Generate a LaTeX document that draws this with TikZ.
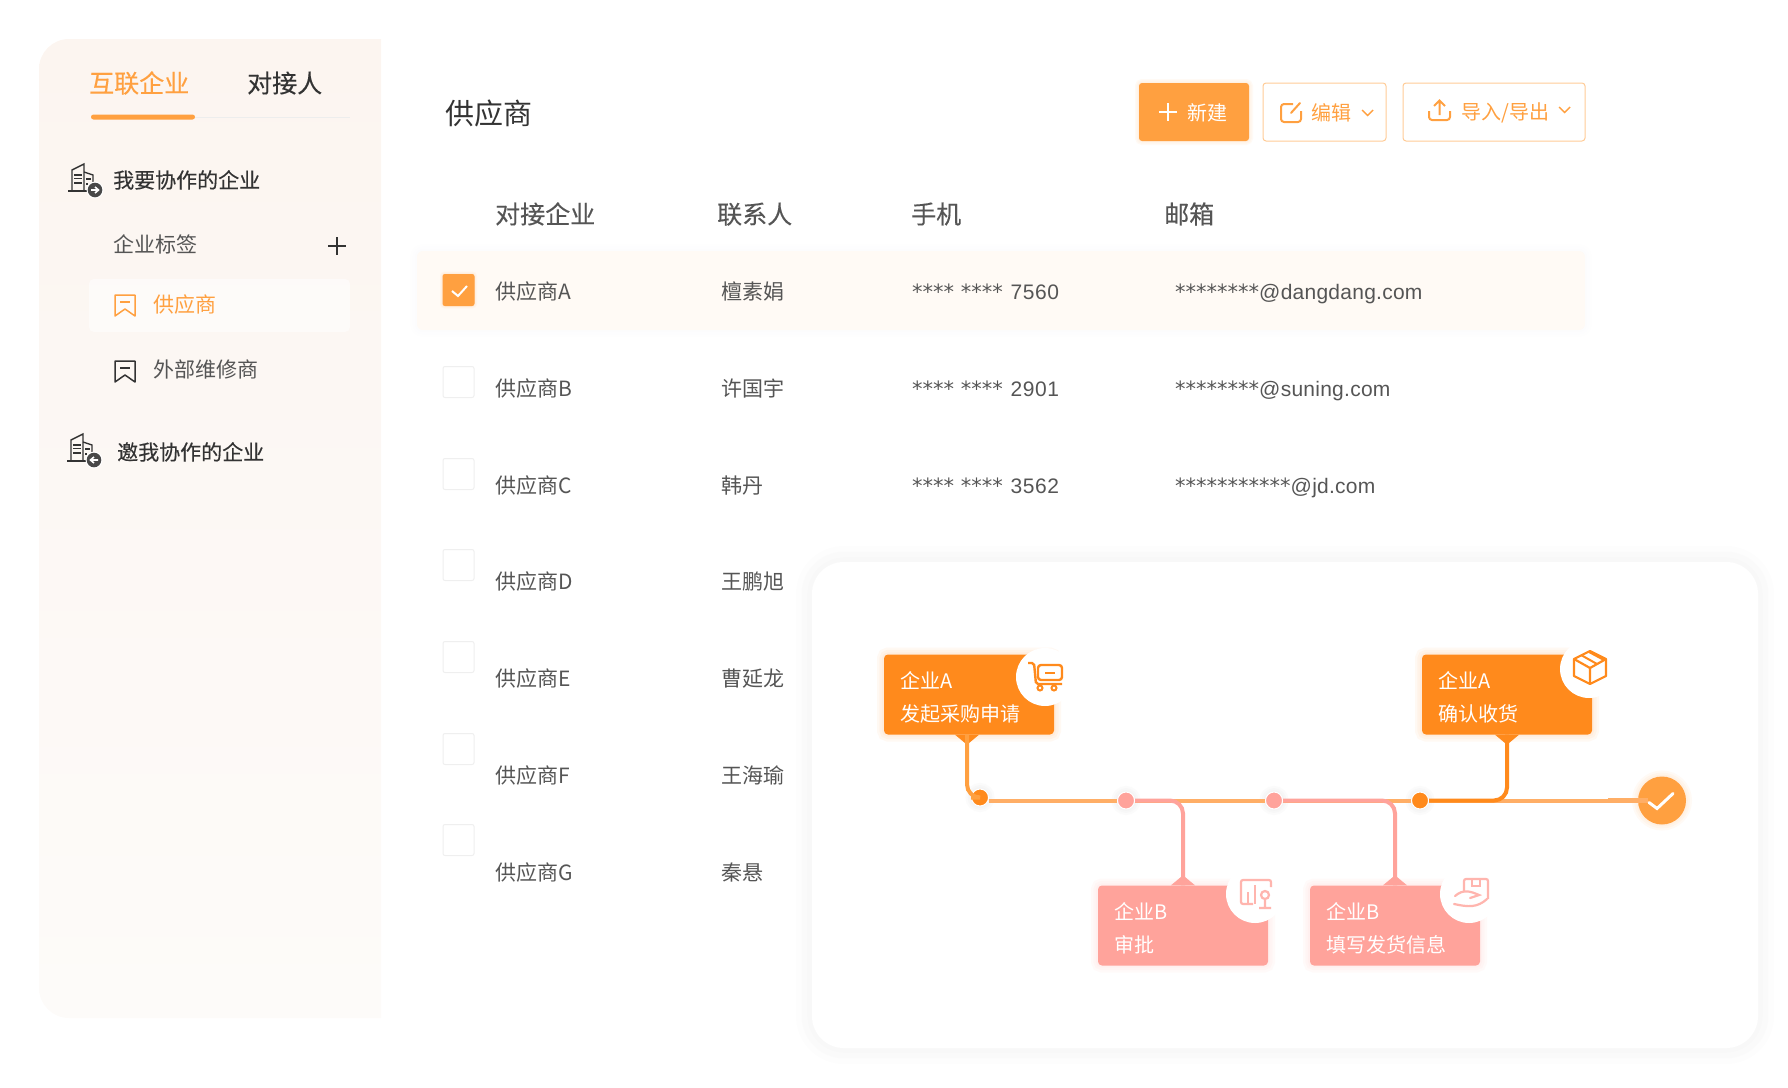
\documentclass[tikz,border=0pt]{standalone}
\usepackage{fontspec}
\setmainfont{Noto Sans CJK SC}
\newfontfamily\cjkheavy[FakeBold=0.3]{Noto Sans CJK SC}
\newfontfamily\starfont{DejaVu Sans}
\newfontfamily\latfont[LetterSpace=1.2]{Liberation Sans}
\newfontfamily\digitfont[LetterSpace=3]{Liberation Sans}
\usetikzlibrary{positioning}
\definecolor{accent}{HTML}{FFA040}
\definecolor{flow}{HTML}{FF8A1C}
\definecolor{rose}{HTML}{FFA39B}
\definecolor{roseicon}{HTML}{FFB5AE}
\definecolor{trunk}{HTML}{FFAE66}
\definecolor{ink}{HTML}{555555}
\definecolor{dark}{HTML}{333333}
\definecolor{edge}{HTML}{FFCB96}
\definecolor{tick}{HTML}{EFEFEF}
\definecolor{sidetop}{HTML}{FCF5F0}
\definecolor{sidebottom}{HTML}{FDFBF9}
\tikzset{
	softglow/.style 2 args={
		preaction={draw=#1,draw opacity=.05,line width=#2*2},
		preaction={draw=#1,draw opacity=.05,line width=#2*1.3},
		preaction={draw=#1,draw opacity=.05,line width=#2*.6}},
	txtnode/.style={font=\fontsize{#1}{#1}\selectfont,inner sep=0pt,anchor=west,text height=#1*.88pt,text depth=#1*.12pt},
	rowtext/.style={txtnode=21,text=ink},
	headtext/.style={txtnode=25,text=ink,font=\fontsize{25}{25}\cjkheavy},
	menutext/.style={txtnode=21,text=dark,font=\fontsize{21}{21}\cjkheavy},
	chkbox/.style={draw=tick,fill=white,line width=1pt,rounded corners=2pt,minimum size=31pt,inner sep=0pt},
	btnbox/.style={draw=edge,line width=1pt,rounded corners=3pt,minimum height=58pt,inner sep=0pt},
	flowbox/.style={fill=#1,rounded corners=4pt,minimum width=170pt,minimum height=80pt,inner sep=0pt,softglow={#1}{7pt}},
	flowtext/.style={font=\fontsize{20}{33}\selectfont,text=white,inner sep=0pt,align=left},
	iconcircle/.style={fill=white,circle,minimum size=58pt,inner sep=0pt},
	flowdot/.style={fill=#1,draw=white,line width=1pt,circle,minimum size=17pt,inner sep=0pt,softglow={black!25}{6pt}},
	mainline/.style={draw=trunk,line width=4pt},
	branchline/.style={draw=#1,line width=4pt,rounded corners=13pt},
	pics/bookmarkicon/.style={code={
		\draw[#1,line width=1.5pt,line join=round] (-10,-10) -- (10,-10) -- (10,11) -- (0,4) -- (-10,11) -- cycle;
		\draw[#1,line width=1.5pt] (-5,-3) -- (5,-3);}},
	pics/buildingicon/.style={code={
		\draw[dark,line width=1.4pt] (-27,1) -- (-3,1);
		\draw[dark,line width=1.4pt] (-23,1) -- (-23,-20) -- (-11,-26) -- (-11,1);
		\draw[dark,line width=1.4pt] (-11,-18) -- (-2,-15) -- (-2,-5);
		\draw[dark,line width=1.3pt] (-21,-15) -- (-13,-15) (-21,-11.5) -- (-13,-11.5) (-21,-7) -- (-13,-7);
		\draw[dark,line width=1.3pt] (-9,-11) -- (-4,-11) (-9,-6) -- (-7,-6);
		\fill[white] (0,0) circle (8.5pt);
		\fill[ink!85!black] (0,0) circle (7.3pt);
		\draw[white,line width=1.6pt,xscale=#1] (-4,0) -- (3,0) (0,-3) -- (3.5,0) -- (0,3);}},
}
\begin{document}
\begin{tikzpicture}[x=1pt,y=-1pt]
	\useasboundingbox (0,0) rectangle (1788,1087);

	\path[top color=sidetop,bottom color=sidebottom] (381,39) [rounded corners=30pt] -- (39,39) -- (39,1018) [sharp corners] -- (381,1018) -- cycle;

	\node (tabcompany) [txtnode=25,text=accent,font=\fontsize{25}{25}\cjkheavy] at (89,83) {互联企业};
	\node (tabcontact) [txtnode=25,text=dark,font=\fontsize{25}{25}\cjkheavy] at (247,83) {对接人};
	\node (tabbar) [fill=accent,rounded corners=2.5pt,minimum width=104pt,minimum height=5pt,inner sep=0pt] at (143,117) {};
	\coordinate (tabend) at (350,117);
	\draw[black!7,line width=.8pt] (tabbar.east) -- (tabend);

	\path (95,190) pic {buildingicon=1};
	\node (mine) [menutext] at (113,180) {我要协作的企业};
	\node (tagtitle) [rowtext] at (113,245) {企业标签};
	\draw[dark,line width=2pt] (328,246) -- (346,246) (337,237) -- (337,255);
	\node (supplierbg) [fill=white,fill opacity=.55,rounded corners=5pt,minimum width=261pt,minimum height=53pt,inner sep=0pt] at (219.5,305.5) {};
	\path (125,305) pic {bookmarkicon=accent};
	\node (supplier) [rowtext,text=accent] at (153,305) {供应商};
	\path (125,371) pic {bookmarkicon=dark};
	\node (repair) [rowtext] at (153,370) {外部维修商};
	\path (94,460) pic {buildingicon=-1};
	\node (invited) [menutext] at (117,452) {邀我协作的企业};

	\node (title) [txtnode=29,text=dark] at (445,113) {供应商};
	\node (newbtn) [fill=accent,rounded corners=3pt,minimum width=110pt,minimum height=58pt,inner sep=0pt,softglow={accent}{4pt}] at (1194,112) {};
	\draw[white,line width=2pt] (1159,112) -- (1177,112) (1168,103) -- (1168,121);
	\node (newtext) [txtnode=20,text=white] at (1187,113) {新建};
	\node (editbtn) [btnbox,minimum width=123pt] at (1324.5,112) {};
	\draw[accent,line width=2pt,rounded corners=3pt] (1293,104) -- (1281,104) -- (1281,122) -- (1301,122) -- (1301,111);
	\draw[accent,line width=2pt,line cap=round] (1291,113) -- (1300,103);
	\node (edittext) [txtnode=20,text=accent] at (1311,113) {编辑};
	\draw[accent,line width=1.4pt] (1362,110) -- (1367.5,115.5) -- (1373,110);
	\node (iobtn) [btnbox,minimum width=182pt] at (1494,112) {};
	\draw[accent,line width=2pt,rounded corners=3pt] (1429,111) -- (1429,120) -- (1450,120) -- (1450,111);
	\draw[accent,line width=2pt] (1439.5,115) -- (1439.5,101) (1434,106) -- (1439.5,100.5) -- (1445,106);
	\node (iotext) [txtnode=20,text=accent] at (1461,112) {导入/导出};
	\draw[accent,line width=1.4pt] (1559,107) -- (1564.5,112.5) -- (1570,107);

	\node (headname) [headtext] at (495,214) {对接企业};
	\node (headcontact) [headtext] at (717,214) {联系人};
	\node (headphone) [headtext] at (911,214) {手机};
	\node (headmail) [headtext] at (1164,214) {邮箱};

	\node (rowband) [fill=accent!5!white,rounded corners=6pt,minimum width=1168pt,minimum height=79pt,inner sep=0pt,softglow={blue!30!black!8}{7pt}] at (1001,290.5) {};
	\node (chka) [chkbox,draw=accent,fill=accent,softglow={accent}{3pt}] at (458.5,290) {};
	\draw[white,line width=2pt] ([shift={(-6.5,1)}]chka.center) -- ([shift={(-.5,6)}]chka.center) -- ([shift={(8.5,-4)}]chka.center);
	\node (chkb) [chkbox] at (458.5,382) {};
	\node (chkc) [chkbox] at (458.5,474) {};
	\node (chkd) [chkbox] at (458.5,565) {};
	\node (chke) [chkbox] at (458.5,657) {};
	\node (chkf) [chkbox] at (458.5,749) {};
	\node (chkg) [chkbox] at (458.5,840) {};

	\node (namea) [rowtext] at (495,292) {供应商A};
	\node (nameb) [rowtext] at (495,389) {供应商B};
	\node (namec) [rowtext] at (495,486) {供应商C};
	\node (named) [rowtext] at (495,582) {供应商D};
	\node (namee) [rowtext] at (495,679) {供应商E};
	\node (namef) [rowtext] at (495,776) {供应商F};
	\node (nameg) [rowtext] at (495,873) {供应商G};
	\node (conta) [rowtext] at (721,292) {檀素娟};
	\node (contb) [rowtext] at (721,389) {许国宇};
	\node (contc) [rowtext] at (721,486) {韩丹};
	\node (contd) [rowtext] at (721,582) {王鹏旭};
	\node (conte) [rowtext] at (721,679) {曹延龙};
	\node (contf) [rowtext] at (721,776) {王海瑜};
	\node (contg) [rowtext] at (721,873) {秦悬};
	\node (phonea) [rowtext] at (912,292) {{\starfont **** ****}\hspace{3pt} {\digitfont 7560}};
	\node (phoneb) [rowtext] at (912,389) {{\starfont **** ****}\hspace{3pt} {\digitfont 2901}};
	\node (phonec) [rowtext] at (912,486) {{\starfont **** ****}\hspace{3pt} {\digitfont 3562}};
	\node (maila) [rowtext] at (1175,292) {{\starfont ********}{\latfont @dangdang.com}};
	\node (mailb) [rowtext] at (1175,389) {{\starfont ********}{\latfont @suning.com}};
	\node (mailc) [rowtext] at (1175,486) {{\starfont ***********}{\latfont @jd.com}};

	\node (card) [fill=white,rounded corners=32pt,minimum width=946pt,minimum height=486pt,inner sep=0pt,softglow={black!18}{16pt}] at (1285,805) {};

	\node (boxa) [flowbox=flow] at (969,694.5) {};
	\fill[flow] ([xshift=-14pt]boxa.south) -- ++(12,10) -- ++(12,-10) -- cycle;
	\node (texta) [flowtext,right=16pt of boxa.west,yshift=-2.5pt] {企业A\\发起采购申请};
	\node (circlea) [iconcircle] at (1045,677) {};

	\node (boxb) [flowbox=rose] at (1183,925.5) {};
	\fill[rose] ([xshift=-12pt]boxb.north) -- ++(12,-10) -- ++(12,10) -- cycle;
	\node (textb) [flowtext,right=16pt of boxb.west,yshift=-2.5pt] {企业B\\审批};
	\node (circleb) [iconcircle] at (1255,894) {};

	\node (boxc) [flowbox=rose] at (1395,925.5) {};
	\fill[rose] ([xshift=-12pt]boxc.north) -- ++(12,-10) -- ++(12,10) -- cycle;
	\node (textc) [flowtext,right=16pt of boxc.west,yshift=-2.5pt] {企业B\\填写发货信息};
	\node (circlec) [iconcircle] at (1469,894) {};

	\node (boxd) [flowbox=flow] at (1507,694.5) {};
	\fill[flow] ([xshift=-12pt]boxd.south) -- ++(12,10) -- ++(12,-10) -- cycle;
	\node (textd) [flowtext,right=16pt of boxd.west,yshift=-2.5pt] {企业A\\确认收货};
	\node (circled) [iconcircle] at (1589,669) {};

	\node (dota) [flowdot=flow] at (980,797.5) {};
	\node (dotb) [flowdot=rose] at (1126,800.5) {};
	\node (dotc) [flowdot=rose] at (1274,800.5) {};
	\node (dotd) [flowdot=flow] at (1420,800.5) {};
	\node (endmark) [fill=accent,circle,minimum size=48pt,inner sep=0pt,softglow={accent}{6pt}] at (1662,800.5) {};

	\draw[mainline] (dota.east |- dotb) -- (dotb);
	\draw[mainline] (dotb) -- (dotc);
	\draw[mainline] (dotc) -- (dotd);
	\draw[mainline] (dotd) -- (endmark);
	\draw[trunk,line width=5pt] ([xshift=-30pt]endmark.west) -- ([xshift=10pt]endmark.west);
	\draw[branchline=accent] ([xshift=-2pt]boxa.south) |- (dota);
	\draw[branchline=rose] (dotb) -| (boxb.north);
	\draw[branchline=rose] (dotc) -| (boxc.north);
	\draw[branchline=flow] (dotd) -| (boxd.south);
	\draw[white,line width=3pt,line cap=round] ([shift={(-13,2)}]endmark.center) -- ([shift={(-5,8)}]endmark.center) -- ([shift={(11,-7)}]endmark.center);

	\draw[flow,line width=2.4pt,rounded corners=2pt] (1028,663) -- (1034,663) -- (1036,684) -- (1062,684);
	\draw[flow,line width=2.4pt,rounded corners=3pt] (1038,665) rectangle (1062,680);
	\draw[flow,line width=2.4pt] (1045,673) -- (1055,673);
	\draw[flow,line width=2pt] (1040,688) circle (2.5pt) (1054,688) circle (2.5pt);

	\draw[roseicon,line width=2.2pt,rounded corners=2pt] (1253,904) -- (1241,904) -- (1241,880) -- (1271,880) -- (1271,887);
	\draw[roseicon,line width=2.2pt] (1248,892) -- (1248,904) (1255,885) -- (1255,904);
	\draw[roseicon,line width=2.2pt] (1265,895) circle (4pt) (1265,899) -- (1265,907) (1259,908) -- (1271,908);

	\draw[roseicon,line width=2.2pt,rounded corners=2pt] (1464,892) -- (1464,879) -- (1488,879) -- (1488,899);
	\draw[roseicon,line width=2.2pt] (1472,879) -- (1472,886) -- (1480,886) -- (1480,879);
	\draw[roseicon,line width=2.2pt,line cap=round] (1455,896) .. controls (1463,889) and (1470,891) .. (1479,895) -- (1470,898);
	\draw[roseicon,line width=2.2pt,line cap=round] (1454,904) .. controls (1468,907) and (1477,908) .. (1487,899);

	\draw[flow,line width=2.2pt,line join=round] (1590,651) -- (1606,659) -- (1606,676) -- (1590,684) -- (1574,676) -- (1574,659) -- cycle;
	\draw[flow,line width=2.2pt,line join=round] (1574,659) -- (1590,668) -- (1606,659) (1590,668) -- (1590,684);
	\draw[flow,line width=2pt] (1581,655) -- (1597,664) (1589,652) -- (1604,660);
\end{tikzpicture}
\end{document}
